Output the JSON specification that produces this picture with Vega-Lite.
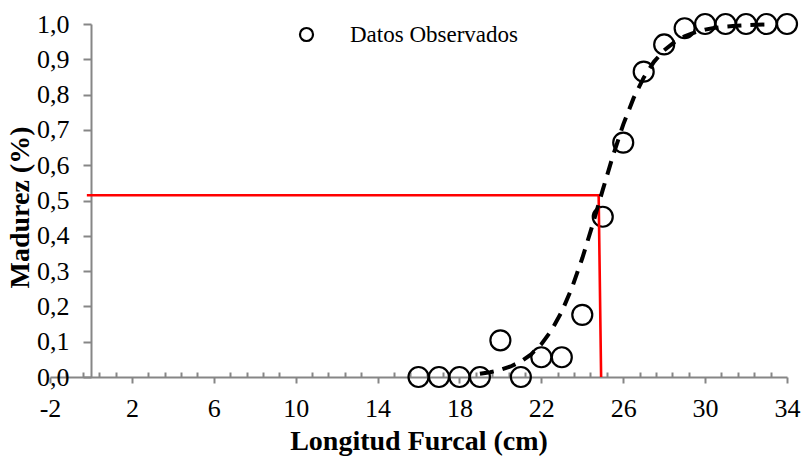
{
  "$schema": "https://vega.github.io/schema/vega-lite/v6.json",
  "autosize": "none",
  "width": 737,
  "height": 353,
  "padding": {"left": 50, "top": 24, "right": 16, "bottom": 82},
  "background": "white",
  "config": {
    "view": {"stroke": null},
    "font": "Liberation Serif"
  },
  "encoding": {
    "x": {
      "field": "x",
      "type": "quantitative",
      "scale": {"domain": [-2, 34], "nice": false, "zero": false},
      "axis": {
        "title": "Longitud Furcal (cm)",
        "titleFont": "Liberation Serif",
        "titleFontSize": 28,
        "titleFontWeight": "bold",
        "titleColor": "black",
        "titleBaseline": "alphabetic",
        "titleY": 72,
        "values": [-2, -1.2, -0.4, 0.4, 1.2, 2, 2.8, 3.6, 4.4, 5.2, 6, 6.8, 7.6, 8.4, 9.2, 10, 10.8, 11.6, 12.4, 13.2, 14, 14.8, 15.6, 16.4, 17.2, 18, 18.8, 19.6, 20.4, 21.2, 22, 22.8, 23.6, 24.4, 25.2, 26, 26.8, 27.6, 28.4, 29.2, 30, 30.8, 31.6, 32.4, 33.2, 34],
        "labelExpr": "(datum.value + 2) % 4 == 0 ? '' + datum.value : ''",
        "labelFont": "Liberation Serif",
        "labelFontSize": 26,
        "labelColor": "black",
        "labelPadding": 12,
        "labelOverlap": false,
        "labelFlush": false,
        "tickSize": {"condition": {"test": "(datum.value + 2) % 4 == 0", "value": 6}, "value": -5},
        "tickColor": "#868686",
        "tickWidth": 2,
        "domainColor": "#868686",
        "domainWidth": 2,
        "grid": false
      }
    },
    "y": {
      "field": "y",
      "type": "quantitative",
      "scale": {"domain": [0, 1], "nice": false},
      "axis": {
        "title": "Madurez (%)",
        "titleFont": "Liberation Serif",
        "titleFontSize": 28,
        "titleFontWeight": "bold",
        "titleColor": "black",
        "titleBaseline": "alphabetic",
        "titleAngle": -90,
        "titleAlign": "center",
        "titleX": -63,
        "titleY": 183,
        "offset": -41,
        "values": [0, 0.1, 0.2, 0.3, 0.4, 0.5, 0.6, 0.7, 0.8, 0.9, 1.0],
        "labelExpr": "replace(format(datum.value, '.1f'), '.', ',')",
        "labelFont": "Liberation Serif",
        "labelFontSize": 26,
        "labelColor": "black",
        "labelPadding": 14,
        "labelOverlap": false,
        "labelFlush": false,
        "tickSize": 8,
        "tickColor": "#868686",
        "tickWidth": 2,
        "domainColor": "#868686",
        "domainWidth": 2,
        "grid": false
      }
    }
  },
  "layer": [
    {
      "data": {
        "values": [
          {"x": 16, "y": 0, "serie": "Datos Observados"},
          {"x": 17, "y": 0, "serie": "Datos Observados"},
          {"x": 18, "y": 0, "serie": "Datos Observados"},
          {"x": 19, "y": 0, "serie": "Datos Observados"},
          {"x": 20, "y": 0.104, "serie": "Datos Observados"},
          {"x": 21, "y": 0, "serie": "Datos Observados"},
          {"x": 22, "y": 0.056, "serie": "Datos Observados"},
          {"x": 23, "y": 0.056, "serie": "Datos Observados"},
          {"x": 24, "y": 0.176, "serie": "Datos Observados"},
          {"x": 25, "y": 0.454, "serie": "Datos Observados"},
          {"x": 26, "y": 0.664, "serie": "Datos Observados"},
          {"x": 27, "y": 0.865, "serie": "Datos Observados"},
          {"x": 28, "y": 0.942, "serie": "Datos Observados"},
          {"x": 29, "y": 0.988, "serie": "Datos Observados"},
          {"x": 30, "y": 1.0, "serie": "Datos Observados"},
          {"x": 31, "y": 1.0, "serie": "Datos Observados"},
          {"x": 32, "y": 1.0, "serie": "Datos Observados"},
          {"x": 33, "y": 1.0, "serie": "Datos Observados"},
          {"x": 34, "y": 1.0, "serie": "Datos Observados"}
        ]
      },
      "mark": {"type": "point", "shape": "circle", "filled": false, "size": 400, "strokeWidth": 2.2, "opacity": 1},
      "encoding": {
        "color": {
          "field": "serie",
          "type": "nominal",
          "scale": {"range": ["black"]},
          "legend": {
            "title": null,
            "orient": "none",
            "legendX": 245,
            "legendY": -1,
            "padding": 0,
            "symbolType": "circle",
            "symbolSize": 170,
            "symbolStrokeWidth": 2.2,
            "symbolFillColor": "transparent",
            "labelFont": "Liberation Serif",
            "labelFontSize": 23,
            "labelColor": "black",
            "labelOffset": 32,
            "labelLimit": 400
          }
        }
      }
    },
    {
      "data": {
        "values": [
          {"x": -0.2, "y": 0.515, "o": 1},
          {"x": 24.8, "y": 0.515, "o": 2},
          {"x": 24.92, "y": 0, "o": 3}
        ]
      },
      "mark": {"type": "line", "color": "#ff0000", "strokeWidth": 2.6},
      "encoding": {"order": {"field": "o", "type": "quantitative"}}
    },
    {
      "data": {
        "values": [
          {"x": 19, "y": 0.0092},
          {"x": 19.5, "y": 0.0137},
          {"x": 20, "y": 0.0202},
          {"x": 20.5, "y": 0.0299},
          {"x": 21, "y": 0.0439},
          {"x": 21.5, "y": 0.0642},
          {"x": 22, "y": 0.0928},
          {"x": 22.5, "y": 0.1324},
          {"x": 23, "y": 0.1854},
          {"x": 23.5, "y": 0.2535},
          {"x": 24, "y": 0.3363},
          {"x": 24.5, "y": 0.4305},
          {"x": 25, "y": 0.53},
          {"x": 25.5, "y": 0.6271},
          {"x": 26, "y": 0.715},
          {"x": 26.5, "y": 0.7892},
          {"x": 27, "y": 0.8481},
          {"x": 27.5, "y": 0.8929},
          {"x": 28, "y": 0.9255},
          {"x": 28.5, "y": 0.9488},
          {"x": 29, "y": 0.9651},
          {"x": 29.5, "y": 0.9763},
          {"x": 30, "y": 0.984},
          {"x": 30.5, "y": 0.9892},
          {"x": 31, "y": 0.9928},
          {"x": 31.5, "y": 0.9951},
          {"x": 32, "y": 0.9967},
          {"x": 32.5, "y": 0.9978},
          {"x": 33, "y": 0.9985}
        ]
      },
      "mark": {"type": "line", "color": "black", "strokeWidth": 4, "strokeDash": [14, 9], "strokeCap": "butt"},
      "encoding": {}
    }
  ]
}
